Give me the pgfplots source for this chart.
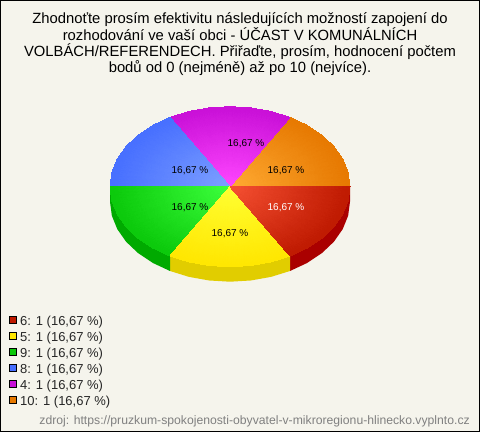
\documentclass[border=0pt]{standalone}
\usepackage{fontspec}
\setmainfont{Liberation Sans}
\usepackage{pgfplots}
\pgfplotsset{compat=1.18}
\definecolor{bgc}{RGB}{245,244,236}
\definecolor{ri}{RGB}{245,80,50}\definecolor{ro}{RGB}{190,25,0}\definecolor{rd}{RGB}{170,0,0}
\definecolor{yi}{RGB}{255,255,50}\definecolor{yo}{RGB}{255,230,0}\definecolor{yd}{RGB}{225,205,0}
\definecolor{gi}{RGB}{60,255,60}\definecolor{go}{RGB}{10,200,10}\definecolor{gd}{RGB}{0,170,0}
\definecolor{bi}{RGB}{125,160,255}\definecolor{bo}{RGB}{70,110,255}
\definecolor{pi}{RGB}{255,70,255}\definecolor{po}{RGB}{200,15,215}
\definecolor{oi}{RGB}{255,170,50}\definecolor{oo}{RGB}{230,120,0}
\begin{document}
\begin{tikzpicture}[x=1pt,y=-1pt]
\draw[black,line width=1pt,fill=bgc] (0.5,0.5) rectangle (479.5,431.5);
\begin{axis}[at={(230pt,-186.7pt)},anchor=center,width=240pt,height=160pt,scale only axis,hide axis,
  xmin=-1,xmax=1,ymin=-1,ymax=1,clip=false]
\addplot[draw=none,fill=rd] coordinates {(1,0)(.9848,-.1736)(.9397,-.342)(.866,-.5)(.766,-.6428)(.6428,-.766)(.5,-.866)(.5,-1.0535)(.6428,-.9535)(.766,-.8303)(.866,-.6875)(.9397,-.5295)(.9848,-.3611)(1,-.1875)} -- cycle;
\addplot[draw=none,fill=yd] coordinates {(.5,-.866)(.342,-.9397)(.1736,-.9848)(0,-1)(-.1736,-.9848)(-.342,-.9397)(-.5,-.866)(-.5,-1.0535)(-.342,-1.1272)(-.1736,-1.1723)(0,-1.1875)(.1736,-1.1723)(.342,-1.1272)(.5,-1.0535)} -- cycle;
\addplot[draw=none,fill=gd] coordinates {(-1,0)(-.9848,-.1736)(-.9397,-.342)(-.866,-.5)(-.766,-.6428)(-.6428,-.766)(-.5,-.866)(-.5,-1.0535)(-.6428,-.9535)(-.766,-.8303)(-.866,-.6875)(-.9397,-.5295)(-.9848,-.3611)(-1,-.1875)} -- cycle;
\addplot[patch,patch type=triangle,shader=interp,mesh/color input=explicit,data cs=polar] table[meta=c] {
x y c
0 0 color=oi
0 1 color=oo
10 1 color=oo
0 0 color=oi
10 1 color=oo
20 1 color=oo
0 0 color=oi
20 1 color=oo
30 1 color=oo
0 0 color=oi
30 1 color=oo
40 1 color=oo
0 0 color=oi
40 1 color=oo
50 1 color=oo
0 0 color=oi
50 1 color=oo
60 1 color=oo
};
\addplot[patch,patch type=triangle,shader=interp,mesh/color input=explicit,data cs=polar] table[meta=c] {
x y c
0 0 color=pi
60 1 color=po
70 1 color=po
0 0 color=pi
70 1 color=po
80 1 color=po
0 0 color=pi
80 1 color=po
90 1 color=po
0 0 color=pi
90 1 color=po
100 1 color=po
0 0 color=pi
100 1 color=po
110 1 color=po
0 0 color=pi
110 1 color=po
120 1 color=po
};
\addplot[patch,patch type=triangle,shader=interp,mesh/color input=explicit,data cs=polar] table[meta=c] {
x y c
0 0 color=bi
120 1 color=bo
130 1 color=bo
0 0 color=bi
130 1 color=bo
140 1 color=bo
0 0 color=bi
140 1 color=bo
150 1 color=bo
0 0 color=bi
150 1 color=bo
160 1 color=bo
0 0 color=bi
160 1 color=bo
170 1 color=bo
0 0 color=bi
170 1 color=bo
180 1 color=bo
};
\addplot[patch,patch type=triangle,shader=interp,mesh/color input=explicit,data cs=polar] table[meta=c] {
x y c
0 0 color=gi
180 1 color=go
190 1 color=go
0 0 color=gi
190 1 color=go
200 1 color=go
0 0 color=gi
200 1 color=go
210 1 color=go
0 0 color=gi
210 1 color=go
220 1 color=go
0 0 color=gi
220 1 color=go
230 1 color=go
0 0 color=gi
230 1 color=go
240 1 color=go
};
\addplot[patch,patch type=triangle,shader=interp,mesh/color input=explicit,data cs=polar] table[meta=c] {
x y c
0 0 color=yi
240 1 color=yo
250 1 color=yo
0 0 color=yi
250 1 color=yo
260 1 color=yo
0 0 color=yi
260 1 color=yo
270 1 color=yo
0 0 color=yi
270 1 color=yo
280 1 color=yo
0 0 color=yi
280 1 color=yo
290 1 color=yo
0 0 color=yi
290 1 color=yo
300 1 color=yo
};
\addplot[patch,patch type=triangle,shader=interp,mesh/color input=explicit,data cs=polar] table[meta=c] {
x y c
0 0 color=ri
300 1 color=ro
310 1 color=ro
0 0 color=ri
310 1 color=ro
320 1 color=ro
0 0 color=ri
320 1 color=ro
330 1 color=ro
0 0 color=ri
330 1 color=ro
340 1 color=ro
0 0 color=ri
340 1 color=ro
350 1 color=ro
0 0 color=ri
350 1 color=ro
360 1 color=ro
};
\end{axis}
\node[align=center,anchor=center,inner sep=0pt,font=\fontsize{14.8}{16}\selectfont] at (240,44.5) {Zhodnoťte prosím efektivitu následujících možností zapojení do\\rozhodování ve vaší obci - ÚČAST V KOMUNÁLNÍCH\\VOLBÁCH/REFERENDECH. Přiřaďte, prosím, hodnocení počtem\\bodů od 0 (nejméně) až po 10 (nejvíce).};
\tikzset{pct/.style={inner sep=0pt,font=\fontsize{10}{12}\selectfont}}
\node[pct] at (246,144) {16,67 \%};
\node[pct] at (190,171) {16,67 \%};
\node[pct] at (286,171) {16,67 \%};
\node[pct] at (190,208) {16,67 \%};
\node[pct,text=white] at (286,208) {16,67 \%};
\node[pct] at (230,234) {16,67 \%};
\tikzset{lg/.style={anchor=base west,inner sep=0pt,font=\fontsize{13}{15}\selectfont,text=black!85},
 sw/.style={draw=black,line width=.7pt}}
\foreach \y/\c/\t in {320/ro/6, 336/yo/5, 352/go/9, 368/bo/8, 384/po/4, 400/oo/10}{
  \filldraw[sw,fill=\c] (9.5,\y-3.5) rectangle (16.5,\y+3.5);
  \node[lg] at (20,\y+5) {\t: 1 (16,67 \%)};
}
\node[anchor=base east,inner sep=0pt,font=\fontsize{12.2}{14}\selectfont,text=black!50] at (470,424) {zdroj: https://pruzkum-spokojenosti-obyvatel-v-mikroregionu-hlinecko.vyplnto.cz};
\end{tikzpicture}
\end{document}
